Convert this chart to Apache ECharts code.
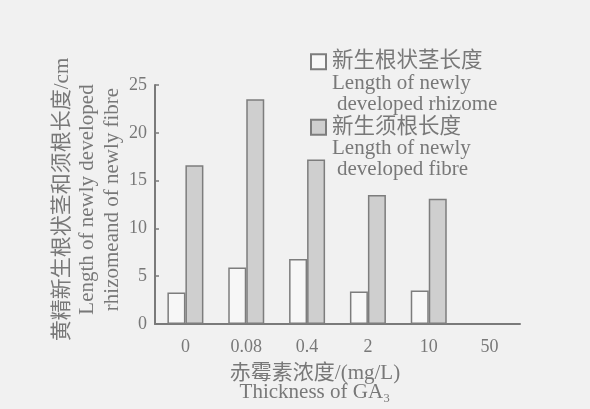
<!DOCTYPE html>
<html>
<head>
<meta charset="utf-8">
<script src="https://cdn.jsdelivr.net/npm/echarts@6/dist/echarts.min.js"></script>
<style>
html,body{margin:0;padding:0;background:#f1f1f1;}
#c{width:590px;height:409px;}
</style>
</head>
<body>
<div id="c"></div>
<script>
var categories = ['0', '0.08', '0.4', '2', '10', '50'];
var rhizome = [3.3, 5.9, 6.8, 3.4, 3.5, null];
var fibre = [16.6, 23.5, 17.2, 13.5, 13.1, null];
var yTicks = [0, 5, 10, 15, 20, 25];
var legendNames = ['新生根状茎长度', '新生须根长度'];

var txt = '#787878';
var serif = '"Liberation Serif","DejaVu Serif",serif';
var cjk = '"Liberation Serif","Noto Sans CJK SC",serif';

var chart = echarts.init(document.getElementById('c'));
chart.setOption({
  backgroundColor: '#f1f1f1',
  animation: false,
  grid: {left: 155, right: 70, top: 85, bottom: 85},
  legend: {
    orient: 'vertical',
    left: 305, top: 46,
    itemWidth: 15, itemHeight: 15,
    itemGap: 44,
    icon: 'rect',
    textStyle: {color: txt, fontSize: 21.5, fontFamily: cjk, padding: [0, 0, 0, 1]},
    data: legendNames
  },
  xAxis: {
    type: 'category',
    data: categories,
    axisLine: {lineStyle: {color: '#7a7a7a', width: 2}},
    axisTick: {inside: true, length: 6, lineStyle: {color: '#7a7a7a', width: 1.5}},
    axisLabel: {color: txt, fontSize: 18, fontFamily: serif, margin: 14},
    name: '赤霉素浓度/(mg/L)\nThickness of GA₃',
    nameLocation: 'middle',
    nameGap: 40,
    nameMoveOverlap: false,
    nameTextStyle: {color: txt, fontSize: 21, fontFamily: cjk, lineHeight: 19, padding: [0, 45, 0, 0]}
  },
  yAxis: {
    type: 'value',
    min: 0, max: 25, interval: 5,
    axisLine: {show: true, lineStyle: {color: '#7a7a7a', width: 2}},
    axisTick: {show: true, inside: true, length: 4, lineStyle: {color: '#7a7a7a', width: 1.5}},
    splitLine: {show: false},
    axisLabel: {color: txt, fontSize: 18, fontFamily: serif, margin: 8,
      formatter: function (v) { return yTicks.indexOf(v) >= 0 ? String(v) : ''; }},
    name: '黄精新生根状茎和须根长度/cm\nLength of newly developed\nrhizomeand of newly fibre',
    nameLocation: 'middle',
    nameRotate: 90,
    nameGap: 30,
    nameMoveOverlap: false,
    nameTextStyle: {color: txt, fontSize: 21, fontFamily: cjk, lineHeight: 25, padding: [0, 0, 0, 10]}
  },
  series: [
    {
      name: legendNames[0], type: 'bar', data: rhizome,
      barWidth: 18, barGap: '0%',
      itemStyle: {color: '#f7f7f7', borderColor: '#7d7d7d', borderWidth: 1.5}
    },
    {
      name: legendNames[1], type: 'bar', data: fibre,
      barWidth: 18,
      itemStyle: {color: '#cfcfcf', borderColor: '#7d7d7d', borderWidth: 1.5}
    }
  ],
  graphic: [
    {type: 'text', left: 332, top: 73, style: {text: 'Length of newly', fill: txt, font: '21px ' + serif}},
    {type: 'text', left: 337, top: 94, style: {text: 'developed rhizome', fill: txt, font: '21px ' + serif}},
    {type: 'text', left: 332, top: 138, style: {text: 'Length of newly', fill: txt, font: '21px ' + serif}},
    {type: 'text', left: 337, top: 159, style: {text: 'developed fibre', fill: txt, font: '21px ' + serif}}
  ]
});
</script>
</body>
</html>
